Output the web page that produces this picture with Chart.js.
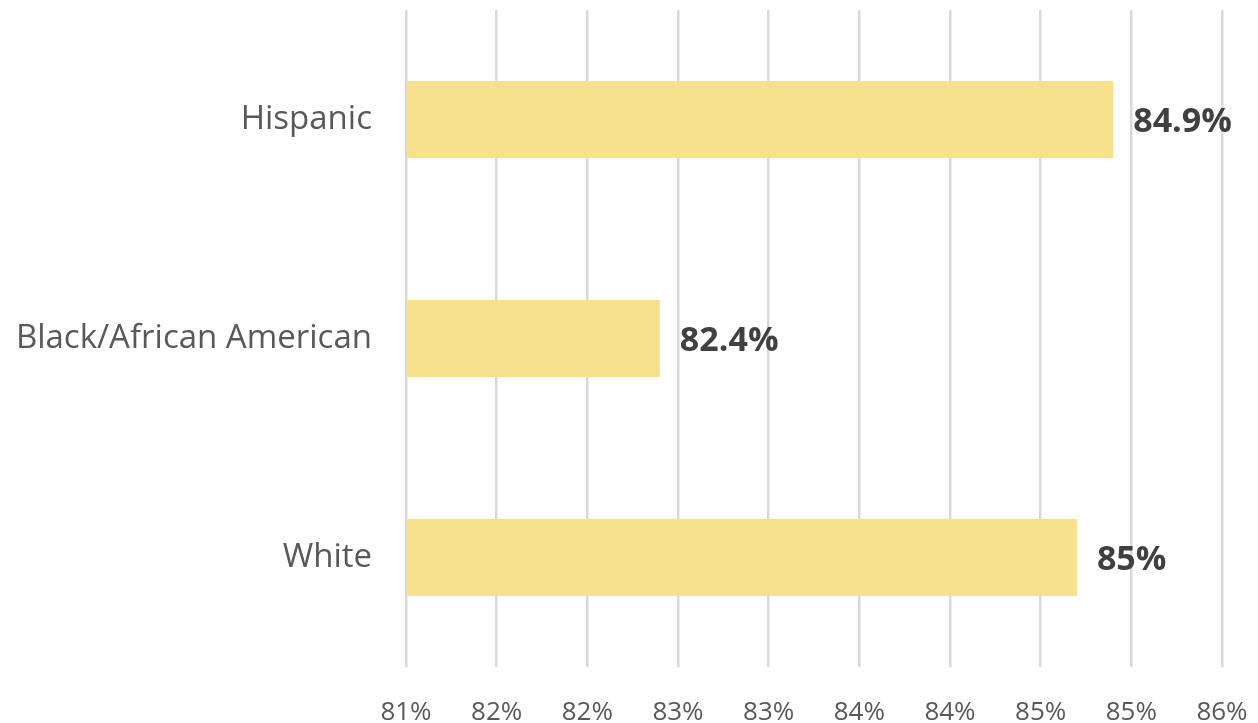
<!DOCTYPE html>
<html>
<head>
<meta charset="utf-8">
<script src="https://cdn.jsdelivr.net/npm/chart.js@4/dist/chart.umd.min.js"></script>
<style>
html,body{margin:0;padding:0;background:#fff;}
#wrap{width:1258px;height:723px;position:relative;}
</style>
</head>
<body>
<div id="wrap"><canvas id="c"></canvas></div>
<script>
const categories = ['Hispanic', 'Black/African American', 'White'];
const values = [84.9, 82.4, 84.7];
const valueLabels = ['84.9%', '82.4%', '85%'];
const tickLabels = ['81%', '82%', '82%', '83%', '83%', '84%', '84%', '85%', '85%', '86%'];
const axisMin = 81;
const axisMax = 85.5;
const axisStep = 0.5;

const dataLabelPlugin = {
  id: 'dataLabels',
  afterDatasetsDraw(chart) {
    const ctx = chart.ctx;
    const meta = chart.getDatasetMeta(0);
    ctx.save();
    ctx.font = 'bold 34px "Open Sans", sans-serif';
    ctx.fillStyle = '#404040';
    ctx.textAlign = 'left';
    ctx.textBaseline = 'middle';
    meta.data.forEach((bar, i) => {
      ctx.fillText(valueLabels[i], bar.x + 20, bar.y + 3);
    });
    ctx.restore();
  }
};

new Chart(document.getElementById('c'), {
  type: 'bar',
  data: {
    labels: categories,
    datasets: [{
      data: values,
      backgroundColor: '#f7e18c',
      borderWidth: 0,
      categoryPercentage: 1,
      barPercentage: 0.352,
      base: axisMin
    }]
  },
  options: {
    indexAxis: 'y',
    responsive: true,
    maintainAspectRatio: false,
    animation: false,
    devicePixelRatio: 1,
    layout: { padding: { top: 10, right: 36, left: 0, bottom: 0 } },
    plugins: { legend: { display: false }, tooltip: { enabled: false } },
    scales: {
      x: {
        min: axisMin,
        max: axisMax,
        afterFit(scale) { scale.height = 56; scale.paddingLeft = 0; scale.paddingRight = 0; },
        border: { display: false },
        grid: { color: '#d9d9d9', lineWidth: 2.5, drawTicks: false },
        ticks: {
          stepSize: axisStep,
          padding: 30,
          color: '#595959',
          font: { family: '"Open Sans", sans-serif', size: 26 },
          callback: (v, i) => tickLabels[i]
        }
      },
      y: {
        afterFit(scale) { scale.width = 406; scale.paddingTop = 0; scale.paddingBottom = 0; },
        border: { display: false },
        grid: { display: false, drawTicks: false },
        ticks: {
          padding: 34,
          color: '#595959',
          font: { family: '"Open Sans", sans-serif', size: 33 }
        }
      }
    }
  },
  plugins: [dataLabelPlugin]
});
</script>
</body>
</html>
